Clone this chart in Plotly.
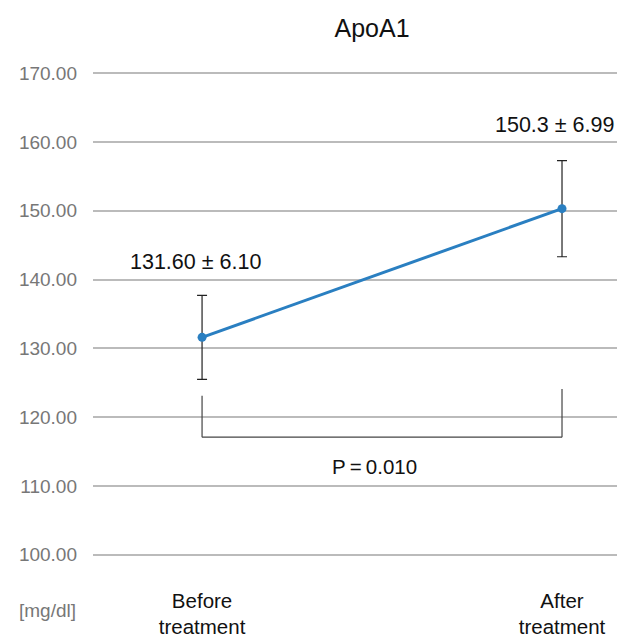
import plotly.graph_objects as go

categories = ["Before<br>treatment", "After<br>treatment"]
x_pos = [0, 1]
means = [131.6, 150.3]
sds = [6.10, 6.99]
value_labels = ["131.60 ± 6.10", "150.3 ± 6.99"]
tick_vals = [100, 110, 120, 130, 140, 150, 160, 170]
tick_text = ["100.00", "110.00", "120.00", "130.00", "140.00", "150.00", "160.00", "170.00"]
p_label = "P\u2009=\u20090.010"
bracket_top = [123.1, 124.1]
bracket_bottom = 117.1

FONT = "Liberation Sans"

fig = go.Figure()
fig.add_trace(go.Scatter(
    x=x_pos, y=means, mode="lines+markers",
    line=dict(color="#2a7fc1", width=3),
    marker=dict(color="#2a7fc1", size=9),
    error_y=dict(type="data", array=sds, visible=True, color="#222", thickness=1.2, width=5),
    showlegend=False, hoverinfo="skip",
))

# bracket
fig.add_shape(type="line", xref="x", yref="y", x0=x_pos[0], x1=x_pos[0], y0=bracket_top[0], y1=bracket_bottom,
              line=dict(color="#444", width=1.2))
fig.add_shape(type="line", xref="x", yref="y", x0=x_pos[1], x1=x_pos[1], y0=bracket_top[1], y1=bracket_bottom,
              line=dict(color="#444", width=1.2))
fig.add_shape(type="line", xref="x", yref="y", x0=x_pos[0], x1=x_pos[1], y0=bracket_bottom, y1=bracket_bottom,
              line=dict(color="#444", width=1.2))

fig.add_annotation(x=0.48, y=112.8, xref="x", yref="y", text=p_label, showarrow=False,
                   font=dict(family=FONT, size=20.5, color="#111"))
fig.add_annotation(x=x_pos[0] - 0.017, y=means[0] + 10.9, xref="x", yref="y", text=value_labels[0],
                   showarrow=False, font=dict(family=FONT, size=21.5, color="#111"))
fig.add_annotation(x=x_pos[1] - 0.022, y=means[1] + 12.1, xref="x", yref="y", text=value_labels[1],
                   showarrow=False, font=dict(family=FONT, size=21.5, color="#111"))
fig.add_annotation(x=-0.085, y=-0.098, xref="paper", yref="paper", text="[mg/dl]", showarrow=False,
                   xanchor="center", yanchor="middle",
                   font=dict(family=FONT, size=19, color="#777"))

fig.update_layout(
    width=617, height=629,
    margin=dict(l=85, r=0, t=52, b=76),
    paper_bgcolor="white", plot_bgcolor="white",
    title=dict(text="ApoA1", x=0.590, xanchor="center", y=0.968, yanchor="middle",
               font=dict(family=FONT, size=25, color="#111")),
    xaxis=dict(range=[-0.303, 1.175], tickvals=x_pos, ticktext=categories, showgrid=False,
               zeroline=False, showline=False, ticks="", ticklabelstandoff=25, automargin=False,
               tickfont=dict(family=FONT, size=20.5, color="#111")),
    yaxis=dict(range=[99.1, 171.9], tickvals=tick_vals, ticktext=tick_text, showgrid=True,
               gridcolor="#bbbbbb", gridwidth=1.5, zeroline=False, showline=False, ticks="",
               ticklabelstandoff=15, automargin=False,
               tickfont=dict(family=FONT, size=19, color="#777")),
)

fig.write_html("out.html")
